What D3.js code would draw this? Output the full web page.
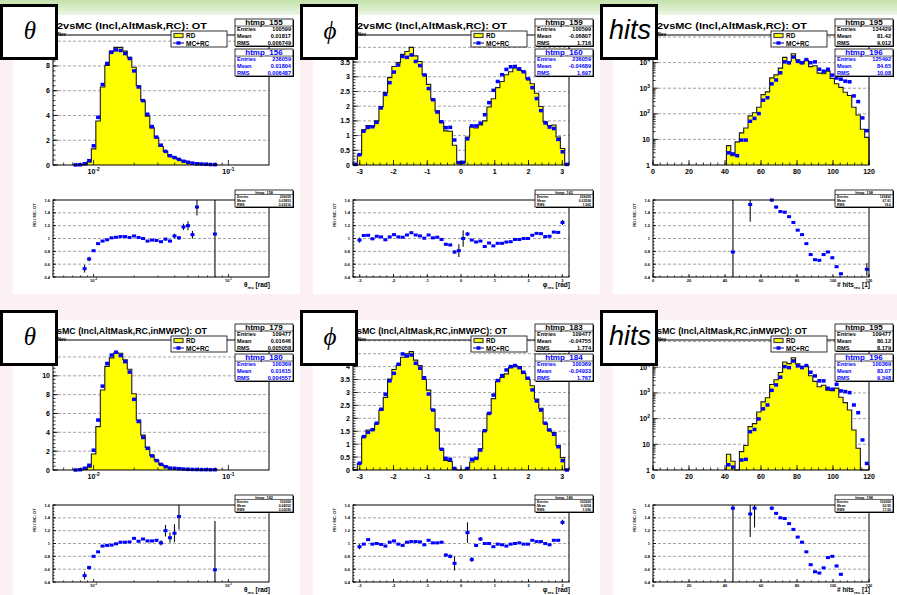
<!DOCTYPE html>
<html>
<head>
<meta charset="utf-8">
<script src="https://cdn.jsdelivr.net/npm/d3@7"></script>
<style>
body { margin: 0; background: #fff; }
</style>
</head>
<body>
<div id="chart"></div>
<script>
var W = 897, H = 595;

// binning of the three variables
var thetaLogStart = -2.25, thetaPerDecade = 30, thetaNBins = 36, thetaRange = [0.005, 0.2];
var phiLo = -3.2, phiHi = 3.2, phiNBins = 50;
var hitsLo = 0, hitsHi = 120, hitsNBins = 50;

// axis ticks
var thetaXTicks = [0.01, 0.1];
var phiXTicks = [-3, -2, -1, 0, 1, 2, 3];
var hitsXTicks = [0, 20, 40, 60, 80, 100, 120];
var thetaYTop = [0, 2, 4, 6, 8, 10];
var thetaYBot = [0, 2, 4, 6, 8, 10, 12];
var phiYTicks = [0, 0.5, 1, 1.5, 2, 2.5, 3, 3.5, 4, 4.5, 5];
var hitsYTicks = [1, 10, 100, 1000, 10000, 100000];
var ratioYTicks = [0.4, 0.6, 0.8, 1, 1.2, 1.4, 1.6];

// theta, bins 3..34
var thetaTopMC = [0.01, 0.02, 0.1, 0.35, 1.55, 3.85, 6.5, 8.2, 9.1, 9.3, 9.25, 9.0, 8.6, 7.6, 6.3, 5.2, 4.1, 3.1, 2.25, 1.6, 1.1, 0.75, 0.6, 0.45, 0.3, 0.22, 0.15, 0.1, 0.08, 0.06, 0.04, 0.03];
var thetaTopRD = [0, 0, 0.05, 0.25, 1.3, 3.55, 6.3, 8.05, 9.2, 9.5, 9.5, 9.2, 8.7, 7.9, 6.4, 5.2, 3.95, 3.0, 2.2, 1.5, 1.1, 0.72, 0.62, 0.45, 0.35, 0.26, 0.16, 0.15, 0.08, 0.05, 0.03, 0.03];
var thetaTopRatio = [null, null, 0.53, 0.68, 0.81, 0.92, 0.96, 0.98, 1.01, 1.02, 1.03, 1.03, 1.015, 1.04, 1.015, 1.0, 0.96, 0.975, 0.97, 0.95, 0.99, 0.96, 1.04, 1.01, 1.18, 1.2, 1.06, 1.49, null, null, null, 1.07];
var thetaTopErr = [null, null, 0.06, 0.035, 0.015, 0.01, 0.008, 0.008, 0.008, 0.008, 0.008, 0.008, 0.008, 0.008, 0.01, 0.01, 0.01, 0.012, 0.015, 0.015, 0.02, 0.02, 0.035, 0.03, 0.05, 0.07, 0.06, 0.13, null, null, null, 1.2];

var thetaBotMC = [0.0, 0.03, 0.18, 0.5, 2.1, 5.3, 8.9, 11.3, 12.2, 12.5, 12.15, 11.5, 10.4, 7.5, 5.15, 3.45, 2.3, 1.5, 1.0, 0.6, 0.35, 0.2, 0.18, 0.14, 0.1, 0.07, 0.06, 0.05, 0.04, 0.04, 0.03, 0.03];
var thetaBotRD = [0, 0, 0.09, 0.31, 1.7, 4.6, 8.5, 11.0, 11.9, 12.45, 12.4, 11.7, 10.7, 8.1, 5.3, 3.7, 2.4, 1.55, 1.05, 0.6, 0.42, 0.22, 0.21, 0.2, 0.1, 0.06, 0.04, 0.03, 0.03, 0.02, 0.02, 0.01];
var thetaBotRatio = [null, null, 0.50, 0.625, 0.80, 0.87, 0.96, 0.97, 0.975, 0.995, 1.02, 1.02, 1.025, 1.08, 1.035, 1.07, 1.04, 1.04, 1.05, 1.01, 1.2, 1.09, 1.16, 1.42, null, null, null, null, null, null, null, 0.59];
var thetaBotErr = [null, null, 0.06, 0.03, 0.015, 0.01, 0.008, 0.008, 0.008, 0.008, 0.008, 0.008, 0.008, 0.01, 0.01, 0.012, 0.015, 0.02, 0.02, 0.04, 0.09, 0.08, 0.14, 0.2, null, null, null, null, null, null, null, 0.76];

// phi, bins 0..49
var phiTopMC = [0.02, 0.35, 1.15, 1.28, 1.3, 1.45, 1.94, 2.4, 2.8, 3.16, 3.4, 3.69, 3.66, 3.74, 3.52, 3.38, 3.06, 2.6, 2.22, 1.8, 1.47, 1.27, 1.28, 0.85, 0.08, 0.09, 0.89, 1.33, 1.33, 1.42, 1.71, 2.12, 2.54, 2.84, 3.07, 3.25, 3.34, 3.35, 3.27, 3.17, 2.93, 2.63, 2.26, 1.85, 1.43, 1.29, 1.24, 0.87, 0.45, 0.02];
var phiTopRD = [0, 0.34, 1.2, 1.34, 1.3, 1.5, 1.99, 2.46, 2.97, 3.35, 3.48, 3.76, 3.86, 4.0, 3.71, 3.52, 3.08, 2.74, 2.24, 1.84, 1.45, 1.16, 1.15, 0.67, 0.065, 0.09, 0.95, 1.3, 1.26, 1.36, 1.5, 1.97, 2.25, 2.63, 2.84, 3.07, 3.17, 3.3, 3.22, 3.17, 2.93, 2.76, 2.44, 1.99, 1.47, 1.34, 1.36, 0.95, 0.56, 0];
var phiTopRatio = [null, 0.975, 1.047, 1.05, 0.995, 1.035, 1.025, 0.98, 1.025, 1.06, 1.025, 1.02, 1.055, 1.09, 1.055, 1.04, 1.005, 1.055, 1.01, 1.02, 0.985, 0.91, 0.90, 0.79, 0.81, 1.0, 1.07, 0.975, 0.945, 0.96, 0.875, 0.93, 0.885, 0.925, 0.925, 0.945, 0.95, 0.985, 0.985, 1.0, 1.0, 1.05, 1.08, 1.075, 1.03, 1.035, 1.10, 1.095, 1.25, null];
var phiTopErr = [null, 0.04, 0.015, 0.015, 0.015, 0.015, 0.015, 0.015, 0.015, 0.015, 0.015, 0.015, 0.015, 0.015, 0.015, 0.015, 0.015, 0.015, 0.015, 0.015, 0.015, 0.02, 0.02, 0.03, 0.1, 0.13, 0.03, 0.015, 0.015, 0.015, 0.015, 0.015, 0.015, 0.015, 0.015, 0.015, 0.015, 0.015, 0.015, 0.015, 0.015, 0.015, 0.015, 0.015, 0.015, 0.015, 0.015, 0.015, 0.04, null];

var phiBotMC = [null, 0.26, 1.29, 1.46, 1.56, 1.81, 2.35, 2.93, 3.45, 3.74, 4.09, 4.49, 4.41, 4.45, 4.13, 3.94, 3.57, 2.94, 2.32, 1.55, 0.8, 0.45, 0.41, 0.06, null, null, 0.06, 0.41, 0.45, 0.77, 1.52, 2.19, 2.9, 3.46, 3.65, 3.87, 4.0, 4.04, 3.96, 3.78, 3.55, 3.1, 2.67, 2.32, 1.81, 1.55, 1.38, 0.9, 0.36, 0];
var phiBotRD = [0, 0.25, 1.28, 1.55, 1.54, 1.81, 2.31, 2.81, 3.52, 3.89, 4.05, 4.36, 4.5, 4.58, 4.25, 4.04, 3.5, 3.09, 2.34, 1.57, 0.82, 0.37, 0.33, 0.04, 0, 0, 0.07, 0.31, 0.44, 0.82, 1.52, 2.19, 2.76, 3.43, 3.58, 3.72, 3.96, 4.04, 4.0, 3.74, 3.51, 3.26, 2.75, 2.39, 1.81, 1.52, 1.45, 0.95, 0.48, 0];
var phiBotRatio = [null, 0.95, 0.99, 1.06, 0.99, 1.0, 0.985, 0.96, 1.02, 1.04, 0.99, 0.97, 1.02, 1.03, 1.03, 1.025, 0.98, 1.05, 1.01, 1.01, 1.02, 0.82, 0.80, 0.69, null, null, 1.17, 0.75, 0.97, 1.07, 1.0, 1.0, 0.95, 0.99, 0.98, 0.96, 0.99, 1.0, 1.01, 0.99, 0.99, 1.05, 1.03, 1.03, 1.0, 0.98, 1.05, 1.05, 1.33, null];
var phiBotErr = [null, 0.04, 0.015, 0.015, 0.015, 0.015, 0.015, 0.015, 0.015, 0.015, 0.015, 0.015, 0.015, 0.015, 0.015, 0.015, 0.015, 0.015, 0.015, 0.015, 0.015, 0.03, 0.03, 0.11, null, null, 0.16, 0.04, 0.02, 0.03, 0.015, 0.015, 0.015, 0.015, 0.015, 0.015, 0.015, 0.015, 0.015, 0.015, 0.015, 0.015, 0.015, 0.015, 0.015, 0.015, 0.015, 0.015, 0.04, null];

// hits, bins 17..49
var hitsTopMC = [3.0, 2.7, 2.3, 9.4, 9.4, 51, 66, 102, 340, 426, 1480, 2090, 4000, 10700, 9800, 16600, 11200, 9900, 13100, 9900, 10700, 5500, 4600, 5500, 3250, 2500, 2250, 1880, 1780, 500, 300, 69, 22];
var hitsTopRD = [5.7, 2.3, 8, 18, 28, 83, 110, 180, 560, 720, 2540, 3330, 6080, 16100, 11000, 22200, 13000, 9000, 12300, 7000, 7500, 3880, 3690, 4650, 2430, 1500, 1080, 700, 520, 180, 90, 25, 12];
var hitsTopRatio = [null, 0.79, null, null, null, 1.53, null, null, null, null, 1.6, 1.49, 1.42, 1.41, 1.34, 1.25, 1.13, 1.06, 0.92, 0.75, 0.67, 0.66, 0.75, 0.79, 0.70, 0.56, 0.45, null, null, null, null, null, 0.52];
var hitsTopErr = [null, 2.0, null, null, null, 0.27, null, null, null, null, 0.03, 0.025, 0.02, 0.015, 0.01, 0.01, 0.01, 0.01, 0.01, 0.01, 0.01, 0.015, 0.015, 0.015, 0.02, 0.02, 0.02, null, null, null, null, null, 0.1];

var hitsBotMC = [1.6, 1.3, null, 2.45, 2.6, 31, 38, 97, 240, 340, 1260, 2050, 4100, 10600, 9700, 17600, 11300, 9700, 11600, 6400, 4600, 2950, 2950, 1520, 1390, 2170, 1200, 1130, 1030, 340, 170, 14.8, 1.8];
var hitsBotRD = [4.1, 2.2, 0, 5.2, 9, 49, 64, 180, 450, 650, 2130, 3280, 6260, 16060, 13850, 23400, 13550, 10780, 11000, 4670, 2810, 1740, 1990, 1290, 1210, 1540, 680, 420, 218, 36, 7, 0, 0];
var hitsBotRatio = [null, 1.55, null, null, null, 1.46, 1.55, null, null, null, 1.55, 1.47, 1.40, 1.39, 1.31, 1.22, 1.10, 1.02, 0.87, 0.67, 0.56, 0.54, 0.62, 0.78, 0.80, 0.65, 0.52, null, null, null, null, null, null];
var hitsBotErr = [null, 2.0, null, null, null, 0.36, 0.3, null, null, null, 0.03, 0.02, 0.02, 0.015, 0.01, 0.01, 0.01, 0.01, 0.01, 0.01, 0.01, 0.015, 0.015, 0.015, 0.015, 0.02, 0.02, null, null, null, null, null, null];

// stat boxes: name, entries, mean, rms
var thetaTopStats = [["htmp_155", "100599", "0.01817", "0.006749"], ["htmp_156", "236059", "0.01804", "0.006487"], ["htmp_158", "236059", "0.03853", "0.02216"]];
var phiTopStats = [["htmp_159", "100599", "-0.06807", "1.716"], ["htmp_160", "236059", "-0.04689", "1.697"], ["htmp_162", "236059", "0.03508", "1.565"]];
var hitsTopStats = [["htmp_195", "134429", "81.42", "9.012"], ["htmp_196", "125492", "84.65", "10.08"], ["htmp_198", "125492", "67.61", "19.6"]];
var thetaBotStats = [["htmp_179", "109477", "0.01646", "0.005058"], ["htmp_180", "100369", "0.01615", "0.004557"], ["htmp_182", "100369", "0.04352", "0.02095"]];
var phiBotStats = [["htmp_183", "109477", "-0.04755", "1.774"], ["htmp_184", "100369", "-0.04933", "1.767"], ["htmp_186", "100369", "0.0054", "1.596"]];
var hitsBotStats = [["htmp_195", "109477", "80.12", "8.179"], ["htmp_196", "100369", "83.07", "9.348"], ["htmp_198", "100369", "62.55", "17.65"]];

var titleTop = "2vsMC (Incl,AltMask,RC): OT";
var titleBot = "sMC (Incl,AltMask,RC,inMWPC): OT";

var panels = [
    {col: 0, row: 0, kind: "theta", sym: "\u03b8", title: titleTop, ymax: 10.5, yticks: thetaYTop, yminor: 0.4, start: 3, rd: thetaTopRD, mc: thetaTopMC, ratio: thetaTopRatio, err: thetaTopErr, stats: thetaTopStats},
    {col: 1, row: 0, kind: "phi", sym: "\u03d5", title: titleTop, ymax: 4.42, yticks: phiYTicks, yminor: 0.1, start: 0, rd: phiTopRD, mc: phiTopMC, ratio: phiTopRatio, err: phiTopErr, stats: phiTopStats},
    {col: 2, row: 0, kind: "hits", sym: "hits", title: titleTop, ymax: 120000, yticks: hitsYTicks, start: 17, rd: hitsTopRD, mc: hitsTopMC, ratio: hitsTopRatio, err: hitsTopErr, stats: hitsTopStats},
    {col: 0, row: 1, kind: "theta", sym: "\u03b8", title: titleBot, ymax: 13.8, yticks: thetaYBot, yminor: 0.4, start: 3, rd: thetaBotRD, mc: thetaBotMC, ratio: thetaBotRatio, err: thetaBotErr, stats: thetaBotStats},
    {col: 1, row: 1, kind: "phi", sym: "\u03d5", title: titleBot, ymax: 5.03, yticks: phiYTicks, yminor: 0.1, start: 0, rd: phiBotRD, mc: phiBotMC, ratio: phiBotRatio, err: phiBotErr, stats: phiBotStats},
    {col: 2, row: 1, kind: "hits", sym: "hits", title: titleBot, ymax: 115000, yticks: hitsYTicks, start: 17, rd: hitsBotRD, mc: hitsBotMC, ratio: hitsBotRatio, err: hitsBotErr, stats: hitsBotStats}
];

var svg = d3.select("#chart").append("svg")
    .attr("width", W)
    .attr("height", H)
    .attr("font-family", "'Liberation Sans', Arial, sans-serif")
    .attr("font-weight", "bold");

var defs = svg.append("defs");
var grad = defs.append("linearGradient").attr("id", "band")
    .attr("x1", 0).attr("y1", 0).attr("x2", 0).attr("y2", 1);
grad.append("stop").attr("offset", "0%").attr("stop-color", "#c3e2ab");
grad.append("stop").attr("offset", "100%").attr("stop-color", "#eef7e8");

svg.append("rect").attr("width", W).attr("height", H).attr("fill", "#fcf0f3");
svg.append("rect").attr("width", W).attr("height", 16).attr("fill", "url(#band)");
[0, 1].forEach(function (r) {
    [0, 1, 2].forEach(function (c) {
        svg.append("rect")
            .attr("x", c * 300 + 13)
            .attr("y", r == 0 ? 15 : 320)
            .attr("width", c == 2 ? W - 613 : 287)
            .attr("height", r == 0 ? 279 : 275)
            .attr("fill", "#fff");
    });
});

function binEdges(kind) {
    var e = [], k;
    if (kind == "theta") {
        for (k = 0; k <= thetaNBins; k++) e.push(Math.pow(10, thetaLogStart + k / thetaPerDecade));
    } else if (kind == "phi") {
        for (k = 0; k <= phiNBins; k++) e.push(phiLo + k * (phiHi - phiLo) / phiNBins);
    } else {
        for (k = 0; k <= hitsNBins; k++) e.push(hitsLo + k * (hitsHi - hitsLo) / hitsNBins);
    }
    return e;
}

function binCenter(kind, e, k) {
    return kind == "theta" ? Math.sqrt(e[k] * e[k + 1]) : (e[k] + e[k + 1]) / 2;
}

function line(g, x1, y1, x2, y2, col, w) {
    return g.append("line")
        .attr("x1", x1).attr("y1", y1).attr("x2", x2).attr("y2", y2)
        .attr("stroke", col || "#000")
        .attr("stroke-width", w || 0.8);
}

function gridLine(g, x0, x1, yy) {
    line(g, x0, yy, x1, yy, "#8a8a8a", 0.8).attr("stroke-dasharray", "3,2");
}

function powText(sel, base, exp, size) {
    sel.text(base);
    sel.append("tspan").attr("dy", -size * 0.45).attr("font-size", size * 0.7).text(exp);
}

function xMinorTicks(kind) {
    var out = [], v;
    if (kind == "theta") {
        [0.001, 0.01, 0.1].forEach(function (d) {
            for (var m = 2; m <= 9; m++) {
                if (m * d > thetaRange[0] && m * d < thetaRange[1]) out.push(m * d);
            }
        });
    } else if (kind == "phi") {
        for (v = -3.2; v <= 3.21; v += 0.2) out.push(v);
    } else {
        for (v = 0; v <= 120; v += 4) out.push(v);
    }
    return out;
}

function xMajorTicks(kind) {
    return kind == "theta" ? thetaXTicks : (kind == "phi" ? phiXTicks : hitsXTicks);
}

function xLabel(g, kind, v, xx, yy, size) {
    var t = g.append("text").attr("x", xx).attr("y", yy)
        .attr("text-anchor", "middle").attr("font-size", size);
    if (kind == "theta") powText(t, "10", v == 0.01 ? "-2" : "-1", size);
    else t.text(v);
}

function statBox(g, x0, y0, w, h, s, color, hsize, rsize) {
    g.append("rect").attr("x", x0 + 1).attr("y", y0 + 1).attr("width", w).attr("height", h).attr("fill", "#000");
    g.append("rect").attr("x", x0).attr("y", y0).attr("width", w).attr("height", h)
        .attr("fill", "#fff").attr("stroke", "#000").attr("stroke-width", 0.8);
    var rh = h / 4;
    g.append("text")
        .attr("x", x0 + w / 2).attr("y", y0 + rh * 0.88)
        .attr("text-anchor", "middle").attr("font-size", hsize).attr("fill", color)
        .text(s[0]);
    line(g, x0, y0 + rh * 1.05, x0 + w, y0 + rh * 1.05, "#000", 0.6);
    ["Entries", "Mean", "RMS"].forEach(function (lab, i) {
        var yy = y0 + rh * (i + 1) + rh * 0.82;
        g.append("text").attr("x", x0 + 2).attr("y", yy)
            .attr("font-size", rsize).attr("fill", color).text(lab);
        g.append("text").attr("x", x0 + w - 2).attr("y", yy)
            .attr("text-anchor", "end").attr("font-size", rsize).attr("fill", color).text(s[i + 1]);
    });
}

function drawPanel(p, pi) {
    var ox = p.col * 300, oy = p.row * 305;
    var fx0 = ox + 53, fx1 = ox + 269;
    var hy0 = oy + 35, hy1 = oy + 165;
    var ry0 = oy + 200, ry1 = oy + 277;
    var tagBottom = oy + 61;
    var e = binEdges(p.kind);
    var g = svg.append("g");

    var x;
    if (p.kind == "theta") x = d3.scaleLog().domain(thetaRange).range([fx0, fx1]);
    else if (p.kind == "phi") x = d3.scaleLinear().domain([phiLo, phiHi]).range([fx0, fx1]);
    else x = d3.scaleLinear().domain([hitsLo, hitsHi]).range([fx0, fx1]);

    var y = p.kind == "hits" ?
        d3.scaleLog().domain([1, p.ymax]).range([hy1, hy0]) :
        d3.scaleLinear().domain([0, p.ymax]).range([hy1, hy0]);
    var ylo = y.domain()[0];
    var yv = function (v) {
        return v <= ylo ? hy1 : Math.max(hy0, y(v));
    };

    // ---- histogram pad ----
    p.yticks.forEach(function (v) {
        if (v <= ylo || v >= p.ymax) return;
        gridLine(g, fx0, fx1, y(v));
    });

    var pts = [[x(e[p.start]), hy1]];
    p.rd.forEach(function (v, i) {
        var k = p.start + i;
        pts.push([x(e[k]), yv(v)], [x(e[k + 1]), yv(v)]);
    });
    pts.push([x(e[p.start + p.rd.length]), hy1]);
    g.append("path").attr("d", d3.line()(pts) + "Z").attr("fill", "#ffff00");
    g.append("path").attr("d", d3.line()(pts))
        .attr("fill", "none").attr("stroke", "#1a1a1a").attr("stroke-width", 1.1);

    p.mc.forEach(function (v, i) {
        if (v == null) return;
        var cx = x(binCenter(p.kind, e, p.start + i));
        g.append("rect")
            .attr("x", cx - 2).attr("y", yv(v) - 1.75)
            .attr("width", 4).attr("height", 3.5)
            .attr("fill", "#0000ff");
    });

    g.append("rect").attr("x", fx0).attr("y", hy0).attr("width", fx1 - fx0).attr("height", hy1 - hy0)
        .attr("fill", "none").attr("stroke", "#000").attr("stroke-width", 1);

    // y ticks (labels under the tag box are not drawn, as in the original)
    if (p.kind == "hits") {
        hitsYTicks.forEach(function (d) {
            if (d < p.ymax) line(g, fx0, y(d), fx0 + 5, y(d));
            for (var m = 2; m <= 9; m++) {
                if (m * d < p.ymax) line(g, fx0, y(m * d), fx0 + 2.5, y(m * d));
            }
            if (d >= p.ymax || y(d) < tagBottom) return;
            var t = g.append("text").attr("x", fx0 - 3).attr("y", y(d) + 2.5)
                .attr("text-anchor", "end").attr("font-size", 7);
            if (d == 1) t.text("1");
            else if (d == 10) t.text("10");
            else powText(t, "10", String(Math.round(Math.log10(d))), 7);
        });
    } else {
        for (var v = 0; v <= p.ymax + 1e-9; v += p.yminor) line(g, fx0, y(v), fx0 + 2.5, y(v));
        p.yticks.forEach(function (v) {
            if (v > p.ymax) return;
            line(g, fx0, y(v), fx0 + 5, y(v));
            if (y(v) < tagBottom) return;
            g.append("text").attr("x", fx0 - 3).attr("y", y(v) + 2.5)
                .attr("text-anchor", "end").attr("font-size", 7).text(v);
        });
    }

    // x ticks
    xMinorTicks(p.kind).forEach(function (v) {
        line(g, x(v), hy1, x(v), hy1 - 2.5);
        line(g, x(v), ry1, x(v), ry1 - 1.5);
    });
    xMajorTicks(p.kind).forEach(function (v) {
        line(g, x(v), hy1, x(v), hy1 - 5);
        line(g, x(v), ry1, x(v), ry1 - 3);
        xLabel(g, p.kind, v, x(v), hy1 + 9, 7);
        xLabel(g, p.kind, v, x(v), ry1 + 4.5, 4);
    });

    // title and y title
    g.append("text").attr("x", ox + 57).attr("y", oy + 29)
        .attr("font-size", 9).attr("textLength", 150).attr("lengthAdjust", "spacingAndGlyphs")
        .text(p.title);
    g.append("text").attr("x", ox + 66).attr("y", oy + 36)
        .attr("text-anchor", "end").attr("font-size", 4.5).text("Nev");

    // legend
    var lx = ox + 171, ly = oy + 31;
    g.append("rect").attr("x", lx).attr("y", ly).attr("width", 56).attr("height", 16)
        .attr("fill", "#fff").attr("stroke", "#000").attr("stroke-width", 0.8);
    g.append("rect").attr("x", lx + 3).attr("y", ly + 2.5).attr("width", 9).attr("height", 4)
        .attr("fill", "#ffff00").attr("stroke", "#444").attr("stroke-width", 1.2);
    g.append("text").attr("x", lx + 15).attr("y", ly + 7).attr("font-size", 6.5).text("RD");
    line(g, lx + 2, ly + 12, lx + 13, ly + 12, "#000080", 1);
    g.append("rect").attr("x", lx + 5.5).attr("y", ly + 10.3).attr("width", 4).attr("height", 3.4).attr("fill", "#0000ff");
    g.append("text").attr("x", lx + 15).attr("y", ly + 14.5).attr("font-size", 6.5).text("MC+RC");

    statBox(g, ox + 235, oy + 19, 58, 27, p.stats[0], "#000", 8, 5.6);
    statBox(g, ox + 235, oy + 49, 58, 27, p.stats[1], "#0000ff", 8, 5.6);

    // ---- ratio pad ----
    var r = d3.scaleLinear().domain([0.4, 1.6]).range([ry1, ry0]);
    ratioYTicks.forEach(function (v) {
        if (v > 0.4 && v < 1.6) gridLine(g, fx0, fx1, r(v));
    });
    for (var rv = 0.4; rv <= 1.6001; rv += 0.05) line(g, fx0, r(rv), fx0 + 1.5, r(rv));
    ratioYTicks.forEach(function (v) {
        line(g, fx0, r(v), fx0 + 3, r(v));
        g.append("text").attr("x", fx0 - 3).attr("y", r(v) + 1.5)
            .attr("text-anchor", "end").attr("font-size", 4).text(v);
    });

    var cid = "clip" + pi;
    defs.append("clipPath").attr("id", cid).append("rect")
        .attr("x", fx0).attr("y", ry0).attr("width", fx1 - fx0).attr("height", ry1 - ry0);
    var rg = g.append("g").attr("clip-path", "url(#" + cid + ")");
    p.ratio.forEach(function (v, i) {
        if (v == null) return;
        var cx = x(binCenter(p.kind, e, p.start + i));
        var er = p.err[i];
        line(rg, cx, r(v - er), cx, r(v + er), er > 0.5 ? "#555" : "#111", er > 0.5 ? 1.6 : 1.1);
    });
    p.ratio.forEach(function (v, i) {
        if (v == null || v < 0.4 || v > 1.605) return;
        var cx = x(binCenter(p.kind, e, p.start + i));
        g.append("rect")
            .attr("x", cx - 2).attr("y", r(v) - 1.5)
            .attr("width", 4).attr("height", 3)
            .attr("fill", "#0000ff");
    });
    g.append("rect").attr("x", fx0).attr("y", ry0).attr("width", fx1 - fx0).attr("height", ry1 - ry0)
        .attr("fill", "none").attr("stroke", "#000").attr("stroke-width", 1);

    var xt = g.append("text").attr("x", fx1 + 1).attr("y", oy + 287.3)
        .attr("text-anchor", "end").attr("font-size", 6.5);
    xt.append("tspan").text(p.kind == "theta" ? "\u03b8" : (p.kind == "phi" ? "\u03c6" : "# hits"));
    xt.append("tspan").attr("dy", 1.2).attr("font-size", 4.2).text("rec");
    xt.append("tspan").attr("dy", -1.2).text(p.kind == "hits" ? " [1]" : " [rad]");

    g.append("text")
        .attr("transform", "translate(" + (ox + 36) + "," + (oy + 215) + ") rotate(-90)")
        .attr("text-anchor", "middle").attr("font-size", 4).text("RD / MC: OT");

    statBox(g, ox + 235, oy + 190, 58, 17, p.stats[2], "#000", 3.8, 3.4);

    // variable tag
    g.append("rect").attr("x", ox + 1.5).attr("y", oy + 5.5 + p.row)
        .attr("width", 55).attr("height", 53)
        .attr("fill", "#fff").attr("stroke", "#000").attr("stroke-width", 3);
    var tag = g.append("text").attr("x", ox + 30).attr("y", oy + 39 + p.row)
        .attr("text-anchor", "middle").attr("font-weight", "normal").attr("font-style", "italic");
    if (p.kind == "hits") {
        tag.attr("font-family", "'Liberation Sans', Arial, sans-serif").attr("font-size", 27).text(p.sym);
    } else {
        tag.attr("font-family", "'Liberation Serif', 'DejaVu Serif', serif").attr("font-size", 25).text(p.sym);
    }
}

panels.forEach(function (p, i) {
    drawPanel(p, i);
});
</script>
</body>
</html>
